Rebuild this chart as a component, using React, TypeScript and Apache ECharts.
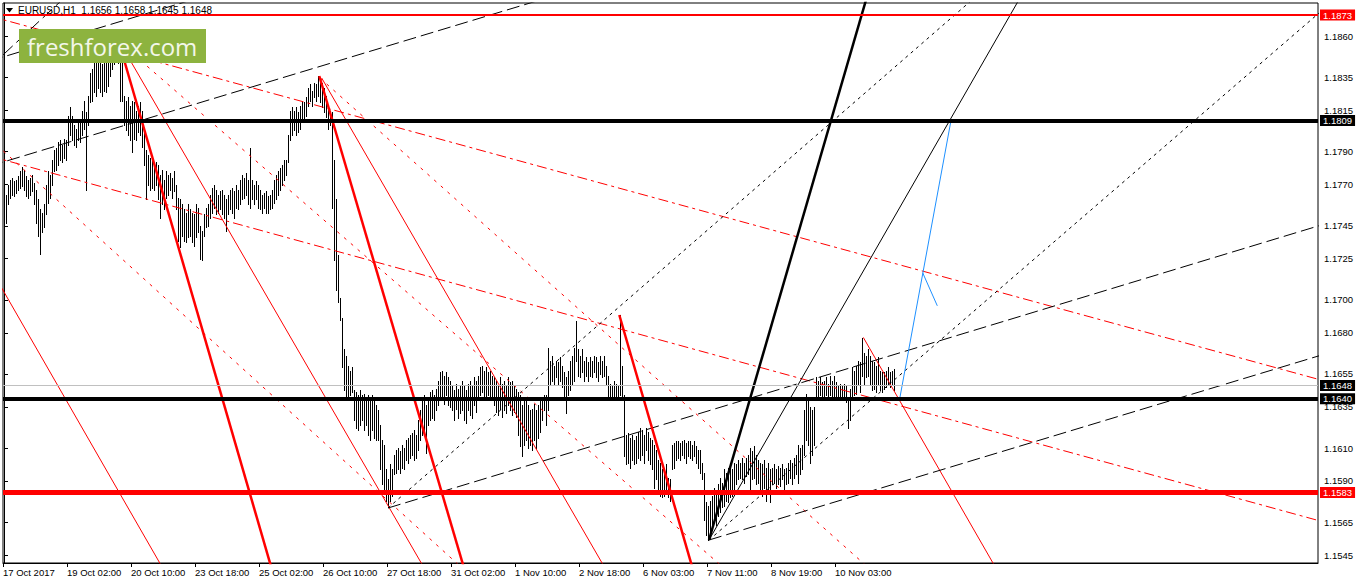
import React, { useEffect, useRef } from "react";
import * as echarts from "echarts";

// ---------- DATA ----------
const chartTitle = "EURUSD,H1  1.1656 1.1658 1.1645 1.1648";
const logoText = "freshforex.com";

// H1 bars, one per hour, index 0 = 17 Oct 2017 18:00
const highs = [
  1.1758,1.1764,1.1770,1.1773,1.1774,1.1772,1.1773,1.1775,1.1778,1.1781,
  1.1779,1.1775,1.1773,1.1774,1.1776,1.1771,1.1767,1.1761,1.1755,1.1753,
  1.1758,1.1770,1.1778,1.1776,1.1785,1.1791,1.1792,1.1796,1.1797,1.1794,
  1.1798,1.1797,1.1812,1.1817,1.1812,1.1806,1.1804,1.1808,1.1810,1.1815,
  1.1821,1.1814,1.1824,1.1838,1.1840,1.1844,1.1846,1.1847,1.1844,1.1843,
  1.1849,1.1846,1.1850,1.1855,1.1857,1.1859,1.1860,1.1861,1.1858,1.1846,
  1.1824,1.1821,1.1823,1.1818,1.1821,1.1820,1.1815,1.1818,1.1820,1.1815,
  1.1803,1.1791,1.1788,1.1786,1.1785,1.1782,1.1784,1.1782,1.1776,1.1779,
  1.1773,1.1778,1.1776,1.1777,1.1774,1.1778,1.1770,1.1762,1.1761,1.1758,
  1.1755,1.1753,1.1758,1.1755,1.1753,1.1752,1.1758,1.1756,1.1745,1.1742,
  1.1752,1.1756,1.1758,1.1764,1.1768,1.1770,1.1767,1.1764,1.1766,1.1767,
  1.1764,1.1761,1.1764,1.1767,1.1768,1.1766,1.1770,1.1767,1.1773,1.1776,
  1.1774,1.1777,1.1773,1.1792,1.1773,1.1770,1.1772,1.1770,1.1767,1.1764,
  1.1765,1.1766,1.1763,1.1764,1.1767,1.1773,1.1776,1.1778,1.1780,1.1782,
  1.1785,1.1785,1.1800,1.1815,1.1817,1.1815,1.1817,1.1814,1.1818,1.1821,
  1.1820,1.1823,1.1829,1.1831,1.1827,1.1832,1.1831,1.1836,1.1835,1.1832,
  1.1829,1.1824,1.1818,1.1815,1.1814,1.1785,1.1761,1.1727,1.1701,1.1689,
  1.1670,1.1666,1.1660,1.1657,1.1659,1.1645,1.1644,1.1642,1.1645,1.1642,
  1.1643,1.1639,1.1642,1.1640,1.1642,1.1639,1.1636,1.1633,1.1624,1.1615,
  1.1612,1.1597,1.1591,1.1600,1.1597,1.1606,1.1609,1.1610,1.1608,1.1612,
  1.1610,1.1615,1.1616,1.1618,1.1619,1.1621,1.1618,1.1627,1.1633,1.1639,
  1.1642,1.1636,1.1640,1.1644,1.1645,1.1642,1.1646,1.1651,1.1656,1.1657,
  1.1654,1.1656,1.1653,1.1651,1.1648,1.1645,1.1649,1.1646,1.1648,1.1651,
  1.1648,1.1645,1.1649,1.1651,1.1648,1.1653,1.1651,1.1654,1.1659,1.1660,
  1.1657,1.1659,1.1656,1.1657,1.1654,1.1653,1.1651,1.1648,1.1653,1.1649,
  1.1651,1.1648,1.1653,1.1650,1.1651,1.1648,1.1646,1.1644,1.1642,1.1636,
  1.1639,1.1640,1.1636,1.1633,1.1634,1.1637,1.1633,1.1636,1.1639,1.1640,
  1.1642,1.1642,1.1671,1.1663,1.1666,1.1660,1.1663,1.1662,1.1665,1.1660,
  1.1656,1.1653,1.1657,1.1663,1.1666,1.1671,1.1687,1.1670,1.1666,1.1670,
  1.1663,1.1665,1.1662,1.1665,1.1663,1.1666,1.1665,1.1662,1.1666,1.1663,
  1.1666,1.1660,1.1654,1.1649,1.1648,1.1651,1.1649,1.1648,1.1691,1.1660,
  1.1642,1.1618,1.1619,1.1616,1.1618,1.1615,1.1617,1.1620,1.1622,1.1621,
  1.1618,1.1622,1.1620,1.1616,1.1615,1.1612,1.1609,1.1603,1.1601,1.1597,
  1.1594,1.1600,1.1592,1.1591,1.1612,1.1613,1.1614,1.1614,1.1613,1.1614,
  1.1615,1.1613,1.1614,1.1614,1.1612,1.1614,1.1611,1.1609,1.1609,1.1601,
  1.1595,1.1577,1.1575,1.1578,1.1581,1.1586,1.1584,1.1588,1.1592,1.1589,
  1.1597,1.1595,1.1598,1.1600,1.1597,1.1601,1.1600,1.1603,1.1601,1.1604,
  1.1601,1.1604,1.1606,1.1610,1.1608,1.1611,1.1606,1.1603,1.1601,1.1600,
  1.1603,1.1598,1.1601,1.1597,1.1598,1.1600,1.1597,1.1599,1.1598,1.1600,
  1.1597,1.1598,1.1601,1.1603,1.1601,1.1604,1.1606,1.1612,1.1610,1.1612,
  1.1633,1.1643,1.1639,1.1635,1.1633,1.1635,1.1653,1.1651,1.1653,1.1650,
  1.1651,1.1653,1.1649,1.1654,1.1651,1.1654,1.1650,1.1648,1.1649,1.1648,
  1.1649,1.1648,1.1639,1.1646,1.1659,1.1657,1.1660,1.1663,1.1662,1.1677,
  1.1668,1.1666,1.1670,1.1666,1.1663,1.1662,1.1660,1.1665,1.1657,1.1656,
  1.1656,1.1657,1.1659,1.1656,1.1657,1.1658
];
const lows = [
  1.1744,1.1747,1.1758,1.1762,1.1764,1.1763,1.1765,1.1767,1.1768,1.1769,
  1.1767,1.1763,1.1762,1.1764,1.1766,1.1758,1.1747,1.1739,1.1728,1.1741,
  1.1744,1.1752,1.1759,1.1762,1.1770,1.1778,1.1779,1.1782,1.1785,1.1784,
  1.1786,1.1785,1.1794,1.1800,1.1797,1.1794,1.1793,1.1797,1.1796,1.1800,
  1.1804,1.1767,1.1806,1.1820,1.1821,1.1826,1.1824,1.1829,1.1826,1.1824,
  1.1827,1.1826,1.1830,1.1836,1.1840,1.1843,1.1846,1.1844,1.1821,1.1821,
  1.1806,1.1803,1.1800,1.1797,1.1790,1.1798,1.1797,1.1802,1.1800,1.1793,
  1.1782,1.1761,1.1770,1.1767,1.1768,1.1767,1.1770,1.1761,1.1750,1.1758,
  1.1755,1.1762,1.1764,1.1767,1.1762,1.1766,1.1755,1.1736,1.1732,1.1739,
  1.1736,1.1735,1.1738,1.1739,1.1735,1.1733,1.1738,1.1741,1.1725,1.1724,
  1.1739,1.1744,1.1745,1.1750,1.1753,1.1756,1.1752,1.1753,1.1755,1.1752,
  1.1750,1.1742,1.1752,1.1755,1.1753,1.1750,1.1756,1.1755,1.1758,1.1761,
  1.1762,1.1764,1.1758,1.1756,1.1761,1.1758,1.1761,1.1756,1.1755,1.1753,
  1.1756,1.1753,1.1753,1.1755,1.1756,1.1759,1.1761,1.1764,1.1767,1.1770,
  1.1773,1.1776,1.1784,1.1797,1.1800,1.1803,1.1800,1.1802,1.1804,1.1809,
  1.1810,1.1812,1.1818,1.1821,1.1818,1.1823,1.1821,1.1824,1.1820,1.1817,
  1.1814,1.1811,1.1804,1.1806,1.1756,1.1724,1.1706,1.1699,1.1688,1.1659,
  1.1645,1.1639,1.1639,1.1642,1.1644,1.1627,1.1622,1.1621,1.1624,1.1627,
  1.1621,1.1624,1.1618,1.1615,1.1621,1.1616,1.1615,1.1615,1.1597,1.1588,
  1.1584,1.1578,1.1574,1.1578,1.1581,1.1594,1.1595,1.1597,1.1595,1.1598,
  1.1597,1.1603,1.1601,1.1604,1.1606,1.1603,1.1604,1.1609,1.1615,1.1618,
  1.1621,1.1607,1.1624,1.1627,1.1628,1.1627,1.1633,1.1636,1.1639,1.1641,
  1.1637,1.1642,1.1636,1.1635,1.1633,1.1627,1.1634,1.1628,1.1631,1.1633,
  1.1627,1.1625,1.1633,1.1630,1.1628,1.1636,1.1632,1.1639,1.1642,1.1644,
  1.1640,1.1639,1.1642,1.1641,1.1639,1.1636,1.1632,1.1630,1.1634,1.1629,
  1.1633,1.1631,1.1636,1.1633,1.1630,1.1632,1.1629,1.1618,1.1611,1.1605,
  1.1612,1.1615,1.1610,1.1612,1.1609,1.1615,1.1610,1.1616,1.1620,1.1627,
  1.1633,1.1624,1.1633,1.1648,1.1651,1.1649,1.1653,1.1648,1.1651,1.1647,
  1.1639,1.1631,1.1642,1.1645,1.1648,1.1651,1.1663,1.1654,1.1653,1.1656,
  1.1651,1.1654,1.1651,1.1654,1.1653,1.1656,1.1653,1.1651,1.1655,1.1653,
  1.1654,1.1648,1.1639,1.1639,1.1640,1.1641,1.1639,1.1640,1.1642,1.1639,
  1.1605,1.1600,1.1601,1.1598,1.1603,1.1600,1.1601,1.1604,1.1603,1.1606,
  1.1601,1.1609,1.1603,1.1600,1.1597,1.1586,1.1591,1.1584,1.1581,1.1580,
  1.1581,1.1584,1.1580,1.1578,1.1597,1.1598,1.1603,1.1604,1.1603,1.1606,
  1.1604,1.1601,1.1605,1.1604,1.1603,1.1605,1.1601,1.1598,1.1595,1.1591,
  1.1566,1.1557,1.1554,1.1559,1.1560,1.1566,1.1563,1.1569,1.1571,1.1574,
  1.1575,1.1578,1.1577,1.1580,1.1581,1.1584,1.1588,1.1591,1.1592,1.1591,
  1.1589,1.1593,1.1594,1.1584,1.1591,1.1592,1.1588,1.1589,1.1584,1.1581,
  1.1586,1.1578,1.1583,1.1577,1.1588,1.1589,1.1586,1.1588,1.1587,1.1591,
  1.1584,1.1588,1.1589,1.1592,1.1588,1.1592,1.1594,1.1589,1.1594,1.1597,
  1.1606,1.1615,1.1612,1.1601,1.1606,1.1612,1.1639,1.1640,1.1642,1.1639,
  1.1640,1.1642,1.1639,1.1642,1.1641,1.1639,1.1640,1.1639,1.1640,1.1639,
  1.1640,1.1638,1.1622,1.1627,1.1639,1.1642,1.1643,1.1648,1.1644,1.1654,
  1.1649,1.1653,1.1654,1.1649,1.1645,1.1646,1.1644,1.1648,1.1645,1.1644,
  1.1646,1.1647,1.1648,1.1647,1.1648,1.1645
];

const xTickBars = [0, 32, 64, 96, 128, 160, 192, 224, 256, 288, 320, 352, 384, 416];
const xTickLabels = [
  "17 Oct 2017", "19 Oct 02:00", "20 Oct 10:00", "23 Oct 18:00", "25 Oct 02:00",
  "26 Oct 10:00", "27 Oct 18:00", "31 Oct 02:00", "1 Nov 10:00", "2 Nov 18:00",
  "6 Nov 03:00", "7 Nov 11:00", "8 Nov 19:00", "10 Nov 03:00"
];
const yTickValues = [
  1.1860, 1.1835, 1.1815, 1.1790, 1.1770, 1.1745, 1.1725, 1.1700,
  1.1680, 1.1655, 1.1635, 1.1610, 1.1590, 1.1565, 1.1545
];

// horizontal levels
const levelValues = [1.1873, 1.1809, 1.1648, 1.1640, 1.1583];

// trend lines: [barIndex1, price1, barIndex2, price2]
const blackThickLines = [[352.5, 1.155412, 431, 1.188217]];
const blackThinLines = [[352.5, 1.155412, 508, 1.188345]];
const blackDottedLines = [
  [192, 1.157356, 485.5, 1.188381],
  [352.5, 1.155412, 663, 1.188004]
];
const blackDashedLines = [
  [-7, 1.184517, 93, 1.188193],
  [-7, 1.178132, 268, 1.188217],
  [192, 1.157356, 663, 1.174706],
  [352.5, 1.155412, 663, 1.166803],
  [-7, 1.184147, 29.5, 1.188272]
];
const redThickLines = [
  [57, 1.185848, 133.5, 1.153808],
  [157.65, 1.1836, 230, 1.153711],
  [307.65, 1.169081, 344.25, 1.153711]
];
const redThinLines = [
  [-7, 1.17196, 79, 1.153778],
  [60.5, 1.185094, 209.5, 1.153832],
  [158.85, 1.183478, 299.9, 1.153832],
  [429.65, 1.16772, 495.35, 1.153832]
];
const redDashDotLines = [
  [-7, 1.187239, 663, 1.16498],
  [-7, 1.178734, 663, 1.156402]
];
const redDottedLines = [
  [-7, 1.179779, 228, 1.153826],
  [58, 1.185629, 358, 1.153917],
  [158, 1.183478, 431, 1.153857]
];
const blueLines = [
  [448, 1.164099, 473.5, 1.1809],
  [459.35, 1.171644, 466.65, 1.16964]
];

// ---------- STYLES ----------
const FONT = "Liberation Sans";
const levelStyles = [
  { color: "#ff0000", width: 2, bg: "#ff0000" },
  { color: "#000000", width: 4, bg: "#000000" },
  { color: "#c0c0c0", width: 1, bg: "#000000" },
  { color: "#000000", width: 4, bg: "#000000" },
  { color: "#ff0000", width: 5, bg: "#ff0000" }
];

function segSeries(list: number[][], color: string, width: number, type: any, z: number) {
  return list.map((s) => ({
    type: "line",
    data: [[s[0], s[1]], [s[2], s[3]]],
    showSymbol: false,
    symbol: "none",
    silent: true,
    clip: true,
    z,
    lineStyle: { color, width, type }
  }));
}

export default function App() {
  const ref = useRef<HTMLDivElement>(null);

  useEffect(() => {
    if (!ref.current) return;
    const chart = echarts.init(ref.current, undefined, { renderer: "svg" });
    const n = Math.min(highs.length, lows.length);
    const barData = [];
    for (let i = 0; i < n; i++) barData.push([i, lows[i], highs[i]]);

    const option: any = {
      animation: false,
      textStyle: { fontFamily: FONT },
      title: {
        text: chartTitle,
        left: 18,
        top: 5,
        padding: 0,
        z: 50,
        textStyle: { fontSize: 10, fontWeight: "normal", color: "#000", fontFamily: FONT }
      },
      grid: {
        left: 3,
        top: 3,
        width: 1315,
        height: 560,
        show: true,
        borderColor: "#000",
        borderWidth: 1,
        backgroundColor: "#fff",
        containLabel: false,
        outerBoundsMode: "none"
      },
      xAxis: {
        type: "value",
        min: -0.5,
        max: 657,
        splitLine: { show: false },
        axisLine: { show: true, lineStyle: { color: "#000", width: 1 } },
        axisTick: {
          show: true,
          length: 4,
          inside: false,
          lineStyle: { color: "#000" },
          customValues: xTickBars.map((b) => b - 0.5)
        },
        axisLabel: {
          show: true,
          customValues: xTickBars.map((b) => b - 0.5),
          formatter: (v: number) => {
            const k = xTickBars.indexOf(Math.round(v + 0.5));
            return k >= 0 ? xTickLabels[k] : "";
          },
          align: "left",
          margin: 4,
          color: "#000",
          fontSize: 9.5,
          fontFamily: FONT,
          hideOverlap: false
        }
      },
      yAxis: {
        type: "value",
        position: "right",
        min: 1.154015,
        max: 1.188035,
        scale: true,
        splitLine: { show: false },
        axisLine: { show: true, lineStyle: { color: "#000", width: 1 } },
        axisTick: {
          show: true,
          length: 4,
          inside: false,
          lineStyle: { color: "#000" },
          customValues: yTickValues
        },
        axisLabel: {
          show: true,
          customValues: yTickValues,
          formatter: (v: number) => v.toFixed(4),
          margin: 6,
          color: "#000",
          fontSize: 9.5,
          fontFamily: FONT,
          hideOverlap: false
        }
      },
      graphic: [
        {
          type: "polygon",
          z: 60,
          shape: { points: [[6, 8], [13, 8], [9.5, 12.5]] },
          style: { fill: "#000" }
        },
        {
          type: "rect",
          z: 100,
          shape: { x: 19, y: 29, width: 187, height: 34 },
          style: { fill: "#8db33f" }
        },
        {
          type: "text",
          z: 101,
          x: 27,
          y: 46,
          style: {
            text: logoText,
            fill: "#f3f7ea",
            font: '24px "Open Sans"',
            verticalAlign: "middle",
            align: "left"
          }
        }
      ],
      series: [
        {
          type: "custom",
          silent: true,
          clip: true,
          z: 2,
          encode: { x: 0, y: [1, 2] },
          data: barData,
          renderItem: (params: any, api: any) => {
            const i = api.value(0);
            const lo = api.coord([i, api.value(1)]);
            const hi = api.coord([i, api.value(2)]);
            const x = Math.round(lo[0]) + 0.5;
            return {
              type: "line",
              shape: { x1: x, y1: Math.round(lo[1]) + 1, x2: x, y2: Math.round(hi[1]) },
              style: { stroke: "#000", lineWidth: 1 }
            };
          }
        },
        {
          type: "line",
          data: [],
          silent: true,
          z: 6,
          markLine: {
            silent: true,
            symbol: "none",
            precision: 6,
            animation: false,
            data: levelValues.map((v, k) => ({
              yAxis: v,
              lineStyle: { color: levelStyles[k].color, width: levelStyles[k].width, type: "solid" },
              label: {
                show: true,
                position: "end",
                distance: 2,
                formatter: () => v.toFixed(4),
                color: "#fff",
                backgroundColor: levelStyles[k].bg,
                padding: [1, 3, 0, 3],
                lineHeight: 10,
                fontSize: 9.5,
                fontFamily: FONT
              }
            }))
          }
        },
        ...segSeries(redDashDotLines, "#ff0000", 1, [10, 4, 3, 4], 3),
        ...segSeries(redDottedLines, "#ff0000", 1, [3, 6], 3),
        ...segSeries(redThinLines, "#ff0000", 1, "solid", 3),
        ...segSeries(redThickLines, "#ff0000", 2.5, "solid", 4),
        ...segSeries(blackDashedLines, "#000000", 1, [13, 5], 3),
        ...segSeries(blackDottedLines, "#000000", 1, [3, 4], 3),
        ...segSeries(blackThinLines, "#000000", 1, "solid", 3),
        ...segSeries(blackThickLines, "#000000", 2.5, "solid", 4),
        ...segSeries(blueLines, "#1e90ff", 1, "solid", 4)
      ]
    };

    chart.setOption(option);
    return () => chart.dispose();
  }, []);

  return (
    <div
      ref={ref}
      style={{ position: "fixed", left: 0, top: 0, width: 1358, height: 584, background: "#fff" }}
    />
  );
}
